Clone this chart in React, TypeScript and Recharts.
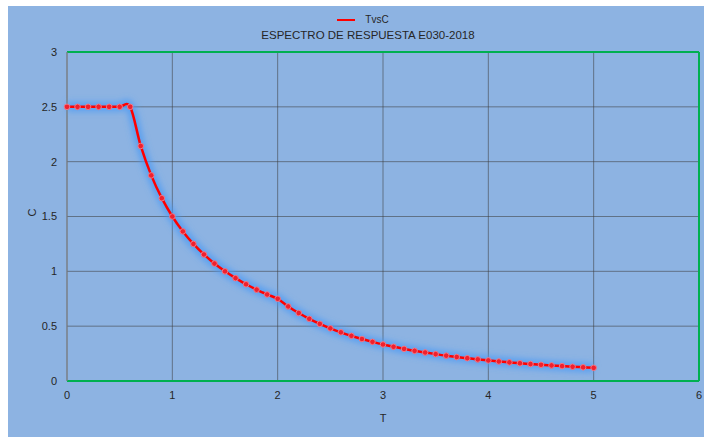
import React from 'react';
import { LineChart, Line, XAxis, YAxis, CartesianGrid, ReferenceLine } from 'recharts';

// periods T (s) and amplification factor C
const periods = [
  0, 0.1, 0.2, 0.3, 0.4, 0.5, 0.6, 0.7, 0.8, 0.9,
  1, 1.1, 1.2, 1.3, 1.4, 1.5, 1.6, 1.7, 1.8, 1.9,
  2, 2.1, 2.2, 2.3, 2.4, 2.5, 2.6, 2.7, 2.8, 2.9,
  3, 3.1, 3.2, 3.3, 3.4, 3.5, 3.6, 3.7, 3.8, 3.9,
  4, 4.1, 4.2, 4.3, 4.4, 4.5, 4.6, 4.7, 4.8, 4.9, 5,
];
const cValues = [
  2.5, 2.5, 2.5, 2.5, 2.5, 2.5, 2.5, 2.143, 1.875, 1.667,
  1.5, 1.364, 1.25, 1.154, 1.071, 1.0, 0.938, 0.882, 0.833, 0.789,
  0.75, 0.68, 0.62, 0.567, 0.521, 0.48, 0.444, 0.412, 0.383, 0.357,
  0.333, 0.312, 0.293, 0.275, 0.26, 0.245, 0.231, 0.219, 0.208, 0.197,
  0.1875, 0.178, 0.17, 0.162, 0.155, 0.148, 0.142, 0.136, 0.13, 0.125, 0.12,
];
const xTicks = [0, 1, 2, 3, 4, 5, 6];
const yTicks = [0, 0.5, 1, 1.5, 2, 2.5, 3];

const seriesName = 'TvsC';
const title = 'ESPECTRO DE RESPUESTA E030-2018';

const data = periods.map((t, i) => ({ T: t, C: cValues[i] }));

const FONT = '"Liberation Sans", Arial, sans-serif';
const GREEN = '#00b050';
const GRID = 'rgba(60,60,60,0.55)';
const TEXT = '#262626';

// Excel-style smoothed line (cardinal bezier, tension 1/6) - overshoots a bit at corners
const excelSmooth = (context: any) => {
  let pts: number[][] = [];
  return {
    areaStart() {},
    areaEnd() {},
    lineStart() { pts = []; },
    point(x: number, y: number) { pts.push([+x, +y]); },
    lineEnd() {
      if (!pts.length) return;
      context.moveTo(pts[0][0], pts[0][1]);
      const k = 1 / 6;
      for (let i = 0; i < pts.length - 1; i++) {
        const p0 = pts[i - 1] || pts[i];
        const p1 = pts[i];
        const p2 = pts[i + 1];
        const p3 = pts[i + 2] || p2;
        context.bezierCurveTo(
          p1[0] + (p2[0] - p0[0]) * k, p1[1] + (p2[1] - p0[1]) * k,
          p2[0] - (p3[0] - p1[0]) * k, p2[1] - (p3[1] - p1[1]) * k,
          p2[0], p2[1],
        );
      }
    },
  };
};

const XTick = (props: any) => {
  const { x, y, payload } = props;
  return (
    <text x={x} y={y} dy="0.71em" textAnchor="middle" fill={TEXT} fontSize={11} fontFamily={FONT}>
      {payload.value}
    </text>
  );
};

export default function App() {
  return (
    // fixed so the page never gets scrollbars
    <div style={{ position: 'fixed', left: 8, top: 6, width: 696, height: 431, background: '#8db3e2' }}>
      {/* legend + title, drawn over the chart like Excel does */}
      <div style={{ position: 'absolute', top: 8, left: 0, width: 696, textAlign: 'center', fontFamily: FONT, color: TEXT }}>
        <div style={{ fontSize: 10, height: 12, lineHeight: '12px', marginLeft: 14 }}>
          <span style={{ display: 'inline-block', width: 18, height: 2, background: '#ff0000', verticalAlign: 'middle', marginRight: 10 }} />
          {seriesName}
        </div>
        <div style={{ fontSize: 11.5, marginTop: 3, marginLeft: 24 }}>{title}</div>
      </div>
      <LineChart width={696} height={431} data={data} margin={{ top: 46, right: 5, left: 0, bottom: 26 }}>
        <defs>
          <filter id="glow" x="-10%" y="-10%" width="120%" height="120%">
            <feGaussianBlur stdDeviation="3" />
          </filter>
        </defs>
        <CartesianGrid stroke={GRID} strokeWidth={1} />
        <XAxis
          dataKey="T"
          type="number"
          domain={[0, 6]}
          ticks={xTicks}
          interval={0}
          height={30}
          tickLine={false}
          tickSize={0}
          tickMargin={10}
          axisLine={{ stroke: GREEN, strokeWidth: 2 }}
          tick={<XTick />}
          label={{ value: 'T', position: 'insideBottom', offset: -11, fill: TEXT, fontSize: 11, fontFamily: FONT }}
        />
        <YAxis
          type="number"
          domain={[0, 3]}
          ticks={yTicks}
          interval={0}
          width={59}
          tickLine={false}
          tickSize={0}
          tickMargin={10}
          axisLine={{ stroke: '#868686' }}
          tick={{ fill: TEXT, fontSize: 11, fontFamily: FONT }}
          label={{ value: 'C', angle: -90, position: 'insideLeft', offset: 24, fill: TEXT, fontSize: 11, fontFamily: FONT }}
        />
        <ReferenceLine y={3} stroke={GREEN} strokeWidth={2} />
        <ReferenceLine x={6} stroke={GREEN} strokeWidth={2} />
        <Line
          dataKey="C"
          type={excelSmooth as any}
          stroke="#4a9af5"
          strokeOpacity={0.8}
          strokeWidth={9}
          dot={false}
          activeDot={false}
          filter="url(#glow)"
          legendType="none"
          isAnimationActive={false}
        />
        <Line
          dataKey="C"
          name={seriesName}
          type={excelSmooth as any}
          stroke="#ff0000"
          strokeWidth={2.5}
          dot={{ r: 2.8, stroke: '#ee7a8a', strokeWidth: 1, fill: '#f0202e' }}
          activeDot={false}
          isAnimationActive={false}
        />
      </LineChart>
    </div>
  );
}
